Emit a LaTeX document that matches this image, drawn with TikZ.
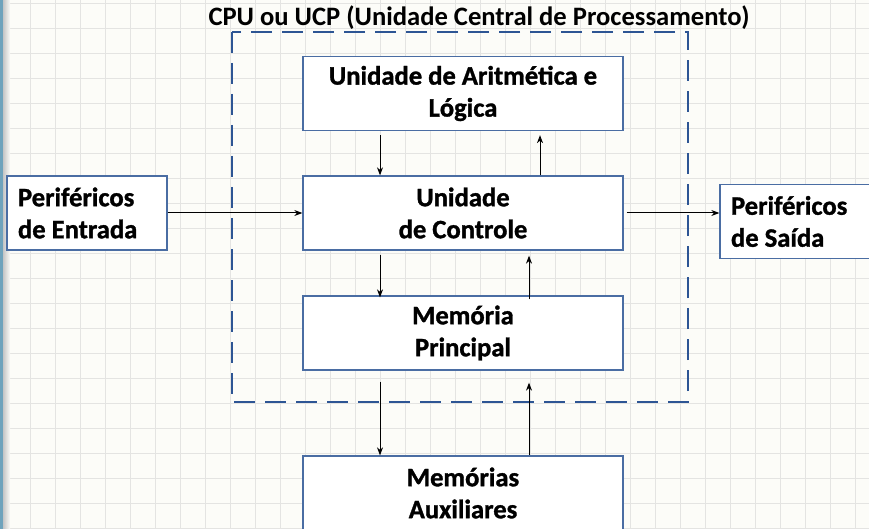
\documentclass[tikz,border=0pt]{standalone}
\usepackage{fontspec}
\setmainfont{Carlito}[BoldFont={Carlito Bold}]
\newfontfamily\heavyfont{Carlito Bold}[FakeBold=1.2]
\usetikzlibrary{arrows.meta}
\definecolor{bg}{HTML}{FCFCF8}
\definecolor{gridc}{HTML}{E4E4E2}
\definecolor{boxc}{HTML}{4A6DA3}
\definecolor{cpuc}{HTML}{2D5594}
\definecolor{stripc}{HTML}{6FA3BC}
\tikzset{
  lbl/.style={font=\fontsize{26.6}{32}\selectfont\heavyfont},
  blk/.style={lbl, draw=boxc, line width=1.3pt, fill=white, minimum width=320pt, minimum height=74pt,
    align=center, inner sep=0pt},
  side/.style={lbl, draw=boxc, line width=1.3pt, fill=white, minimum width=160pt, minimum height=74pt,
    align=flush left, text width=138pt, inner xsep=11pt, inner ysep=0pt},
  arr/.style={-{Stealth[length=8pt,width=6pt,inset=2.5pt]}, line width=1pt, black},
  cpubox/.style={draw=cpuc, line width=2.8pt, dash pattern=on 21pt off 10pt}
}
\begin{document}
\begin{tikzpicture}[x=1pt,y=-1pt]
\useasboundingbox (0,0) rectangle (869,529);
\fill[bg] (0,0) rectangle (869,529);
\foreach \x in {5,30,...,869} \draw[gridc, line width=0.8pt] (\x,0) -- (\x,529);
\foreach \y in {3,28,...,529} \draw[gridc, line width=0.8pt] (0,\y) -- (869,\y);
\fill[stripc] (0,0) rectangle (3,529);
\shade[left color=gray!45, right color=bg] (3,0) rectangle (10,529);

\draw[cpubox] (232,32) rectangle (688,402);
\node[font=\fontsize{26.6}{32}\selectfont\bfseries, anchor=center] (title) at (479,18) {CPU ou UCP (Unidade Central de Processamento)};

\node[blk] (alu) at (463,93.5) {Unidade de Aritmética e\\Lógica};
\node[blk] (uc) at (463,213) {Unidade\\de Controle};
\node[blk] (mp) at (463,333) {Memória\\Principal};
\node[blk] (ma) at (463,493) {Memórias\\Auxiliares};
\node[side] (pe) at (87,213) {Periféricos\\de Entrada};
\node[side] (ps) at (800,221.5) {Periféricos\\de Saída};

\draw[arr, shorten <=4pt] ([xshift=-83pt]alu.south) -- ([xshift=-83pt]uc.north);
\draw[arr, shorten >=4pt] ([xshift=77pt]uc.north) -- ([xshift=77pt]alu.south);
\draw[arr, shorten <=4pt, shorten >=-2pt] ([xshift=-83pt]uc.south) -- ([xshift=-83pt]mp.north);
\draw[arr, shorten >=5pt, shorten <=-4pt] ([xshift=66pt]mp.north) -- ([xshift=66pt]uc.south);
\draw[arr, shorten <=11pt] ([xshift=-83pt]mp.south) -- ([xshift=-83pt]ma.north);
\draw[arr, shorten >=12pt] ([xshift=66pt]ma.north) -- ([xshift=66pt]mp.south);
\draw[arr] (pe.east |- uc.west) -- (uc.west);
\draw[arr, shorten <=3pt] (uc.east) -- (uc.east -| ps.west);
\end{tikzpicture}
\end{document}
